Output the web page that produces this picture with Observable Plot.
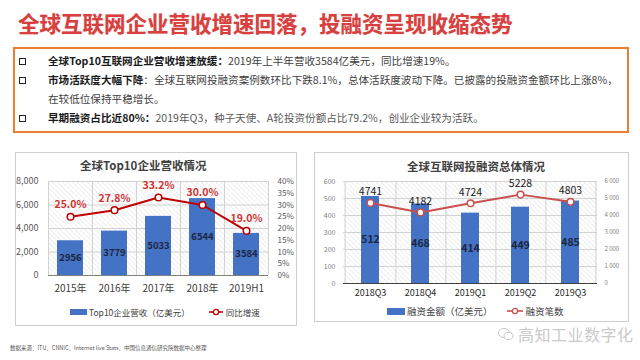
<!DOCTYPE html>
<html><head><meta charset="utf-8">
<script src="https://cdn.jsdelivr.net/npm/d3@7"></script>
<script src="https://cdn.jsdelivr.net/npm/@observablehq/plot@0.6"></script>
<style>
body{margin:0;background:#fff;font-family:"Noto Sans CJK SC","Noto Sans",sans-serif;}
#page{position:relative;width:640px;height:360px;overflow:hidden;background:#fff;}
.abs{position:absolute;}
.title{left:18px;top:7px;font-size:21.5px;font-weight:700;color:#d84040;letter-spacing:0px;white-space:nowrap;text-shadow:0 0 1px rgba(200,60,60,0.4);}
.box{left:13px;top:47px;width:612px;height:82px;border:2px solid #ed7d31;background:#fff;}
.line{position:absolute;left:48px;font-size:10.6px;line-height:16px;color:#404040;white-space:nowrap;}
.line b{color:#1a1a1a;font-weight:700;}
.bul{position:absolute;left:19px;width:5px;height:5px;border:1.3px solid #222;}
.panel{border:1.5px solid #cfcfcf;background:#fff;box-sizing:border-box;}
.ctitle{font-size:11.5px;font-weight:700;color:#404040;white-space:nowrap;}
.leg{font-size:8.5px;color:#404040;white-space:nowrap;display:flex;align-items:center;}
.foot{left:10px;top:344px;font-size:5.5px;color:#555;white-space:nowrap;}
.wm{left:498px;top:322px;font-size:16px;color:#cacaca;white-space:nowrap;display:flex;align-items:center;letter-spacing:0.5px;}
</style></head><body>
<svg width="0" height="0" style="position:absolute">
  <defs>
    <pattern id="hatch" width="3.5" height="3.5" patternUnits="userSpaceOnUse" patternTransform="rotate(-45)">
      <line x1="0" y1="0" x2="0" y2="3.5" stroke="#d9d9d9" stroke-width="0.9"/>
    </pattern>
  </defs>
</svg>
<div id="page">
  <div class="abs title">全球互联网企业营收增速回落，投融资呈现收缩态势</div>
  <div class="abs box"></div>
  <div class="bul" style="top:58px"></div>
  <div class="line" style="top:53px"><b>全球Top10互联网企业营收增速放缓：</b>2019年上半年营收3584亿美元，同比增速19%。</div>
  <div class="bul" style="top:77px"></div>
  <div class="line" style="top:72px"><b>市场活跃度大幅下降</b>：全球互联网投融资案例数环比下跌8.1%，总体活跃度波动下降。已披露的投融资金额环比上涨8%，</div>
  <div class="line" style="top:91px">在较低位保持平稳增长。</div>
  <div class="bul" style="top:115px"></div>
  <div class="line" style="top:110px;color:#595959"><b>早期融资占比近80%：</b>2019年Q3，种子天使、A轮投资份额占比79.2%，创业企业较为活跃。</div>

  <div class="abs panel" style="left:15px;top:152px;width:282px;height:174px"></div>
  <div class="abs ctitle" style="left:80px;top:157px">全球Top10企业营收情况</div>
  <div class="abs" id="c1a" style="left:15px;top:170px"></div>
  <div class="abs" id="c1b" style="left:15px;top:170px"></div>
  <div class="abs leg" style="left:70px;top:306px">
    <span style="display:inline-block;width:17px;height:6px;background:#4472c4;margin-right:2px"></span>
    <span>Top10企业营收（亿美元）</span>
    <svg width="16" height="10" style="margin-left:18px;margin-right:2px"><line x1="1" y1="5" x2="15" y2="5" stroke="#c00000" stroke-width="1.6"/><circle cx="8" cy="5" r="2.6" fill="#fff" stroke="#c00000" stroke-width="1.3"/></svg>
    <span>同比增速</span>
  </div>

  <div class="abs panel" style="left:314px;top:152px;width:315px;height:170px"></div>
  <div class="abs ctitle" style="left:407px;top:158px;font-size:11.5px">全球互联网投融资总体情况</div>
  <div class="abs" id="c2a" style="left:314px;top:170px"></div>
  <div class="abs" id="c2b" style="left:314px;top:170px"></div>
  <div class="abs leg" style="left:387px;top:304px;font-size:9.5px">
    <span style="display:inline-block;width:18px;height:7px;background:#4472c4;margin-right:2px"></span>
    <span>融资金额（亿美元）</span>
    <svg width="18" height="10" style="margin-left:13px;margin-right:2px"><line x1="1" y1="5" x2="17" y2="5" stroke="#c9504f" stroke-width="1.6"/><circle cx="9" cy="5" r="2.6" fill="#fff" stroke="#c9504f" stroke-width="1.3"/></svg>
    <span>融资笔数</span>
  </div>

  <div class="abs foot">数据来源：ITU、CNNIC、Internet live Stats、中国信息通信研究院数据中心整理</div>
  <div class="abs wm">
    <svg width="16" height="14" style="margin-right:4px"><ellipse cx="6" cy="6" rx="5.5" ry="4.5" fill="none" stroke="#c8c8c8" stroke-width="1"/><ellipse cx="10.5" cy="9" rx="4.5" ry="3.6" fill="#fff" stroke="#c8c8c8" stroke-width="1"/></svg>
    <span>高知工业数字化</span>
  </div>
</div>
<script>
// ---- data ----
const years = ["2015年", "2016年", "2017年", "2018年", "2019H1"];
const revenue = [2956, 3779, 5033, 6544, 3584];
const growth = [25.0, 27.8, 33.2, 30.0, 19.0];
const revTicks = [0, 2000, 4000, 6000, 8000];
const growthTicks = [0, 5, 10, 15, 20, 25, 30, 35, 40];

const quarters = ["2018Q3", "2018Q4", "2019Q1", "2019Q2", "2019Q3"];
const amount = [512, 468, 414, 449, 485];
const deals = [4741, 4182, 4724, 5228, 4803];
const amountTicks = [0, 100, 200, 300, 400, 500, 600];
const dealTicks = [0, 1000, 2000, 3000, 4000, 5000, 6000];

const FONT = '"Noto Sans CJK SC","Noto Sans",sans-serif';

// ---- chart 1 ----
const revData = years.map((c, i) => ({c, v: revenue[i]}));
const growData = years.map((c, i) => ({c, v: growth[i]}));
const L1 = {width: 282, height: 130, marginLeft: 33, marginRight: 29, marginTop: 11, marginBottom: 25};
const step1 = (L1.width - L1.marginLeft - L1.marginRight) / years.length;
const xs1 = {domain: years, paddingInner: 0.4, paddingOuter: 0.2};

const c1a = Plot.plot({
  ...L1,
  style: {fontFamily: FONT, background: "transparent", overflow: "visible"},
  x: {...xs1},
  y: {domain: [0, revTicks[revTicks.length - 1]]},
  marks: [
    Plot.frame({fill: "url(#hatch)", stroke: null}),
    Plot.ruleY(revTicks.slice(1), {stroke: "#d2d2d2"}),
    Plot.ruleX(years, {x: d => d, dx: step1 / 2, stroke: "#d2d2d2"}),
    Plot.ruleX([years[0]], {x: d => d, dx: -step1 / 2, stroke: "#d2d2d2"}),
    Plot.barY(revData, {x: "c", y: "v", fill: "#4472c4"}),
    Plot.text(revData, {x: "c", y: d => d.v / 2, text: d => String(d.v), fill: "#1c2640", fontWeight: "bold", fontSize: 9.5}),
    Plot.ruleY([0], {stroke: "#808080", strokeWidth: 1.2}),
    Plot.axisY({ticks: revTicks, tickSize: 0, tickPadding: 10, fontSize: 9, fill: "#595959", label: null}),
    Plot.axisX({tickSize: 0, tickPadding: 9, fontSize: 10, fill: "#404040", label: null})
  ]
});
document.getElementById("c1a").append(c1a);

const c1b = Plot.plot({
  ...L1,
  style: {fontFamily: FONT, background: "transparent", overflow: "visible"},
  x: {...xs1, axis: null},
  y: {domain: [0, growthTicks[growthTicks.length - 1]]},
  marks: [
    Plot.axisY({anchor: "right", ticks: growthTicks, tickFormat: d => d + "%", tickSize: 0, tickPadding: 9, fontSize: 8, fill: "#595959", label: null}),
    Plot.line(growData, {x: "c", y: "v", stroke: "#c00000", strokeWidth: 2}),
    Plot.dot(growData, {x: "c", y: "v", r: 3.3, fill: "white", stroke: "#c00000", strokeWidth: 1.5}),
    Plot.text(growData, {x: "c", y: "v", text: d => d.v.toFixed(1) + "%", dy: -12, fill: "#d03434", fontSize: 10.5, fontWeight: "bold"})
  ]
});
document.getElementById("c1b").append(c1b);

// ---- chart 2 ----
const amtData = quarters.map((c, i) => ({c, v: amount[i]}));
const dealData = quarters.map((c, i) => ({c, v: deals[i]}));
const L2 = {width: 315, height: 135, marginLeft: 29, marginRight: 32, marginTop: 11, marginBottom: 22};
const step2 = (L2.width - L2.marginLeft - L2.marginRight) / quarters.length;
const xs2 = {domain: quarters, paddingInner: 0.65, paddingOuter: 0.325};

const c2a = Plot.plot({
  ...L2,
  style: {fontFamily: FONT, background: "transparent", overflow: "visible"},
  x: {...xs2},
  y: {domain: [0, amountTicks[amountTicks.length - 1]]},
  marks: [
    Plot.frame({fill: "url(#hatch)", stroke: null}),
    Plot.ruleY(amountTicks.slice(1), {stroke: "#d2d2d2"}),
    Plot.ruleX(quarters, {x: d => d, dx: step2 / 2, stroke: "#d2d2d2"}),
    Plot.ruleX([quarters[0]], {x: d => d, dx: -step2 / 2, stroke: "#d2d2d2"}),
    Plot.barY(amtData, {x: "c", y: "v", fill: "#4472c4"}),
    Plot.text(amtData, {x: "c", y: d => d.v / 2, text: d => String(d.v), fill: "#1c2640", fontWeight: "bold", fontSize: 10.5}),
    Plot.ruleY([0], {stroke: "#404040", strokeWidth: 1.2}),
    Plot.axisY({ticks: amountTicks, tickSize: 0, tickPadding: 8, fontSize: 7, fill: "#808080", label: null}),
    Plot.axisX({tickSize: 0, tickPadding: 6, fontSize: 9, fill: "#262626", label: null})
  ]
});
document.getElementById("c2a").append(c2a);

const c2b = Plot.plot({
  ...L2,
  style: {fontFamily: FONT, background: "transparent", overflow: "visible"},
  x: {...xs2, axis: null},
  y: {domain: [0, dealTicks[dealTicks.length - 1]]},
  marks: [
    Plot.axisY({anchor: "right", ticks: dealTicks, tickSize: 0, tickPadding: 7, fontSize: 6, fill: "#808080", label: null, tickFormat: d => d3.format(",")(d).replace(",", " ")}),
    Plot.line(dealData, {x: "c", y: "v", stroke: "#c9504f", strokeWidth: 2}),
    Plot.dot(dealData, {x: "c", y: "v", r: 3.3, fill: "white", stroke: "#c9504f", strokeWidth: 1.5}),
    Plot.text(dealData, {x: "c", y: "v", text: d => String(d.v), dy: -11, fill: "#1a1a1a", fontSize: 10.5})
  ]
});
document.getElementById("c2b").append(c2b);
</script>
</body></html>
